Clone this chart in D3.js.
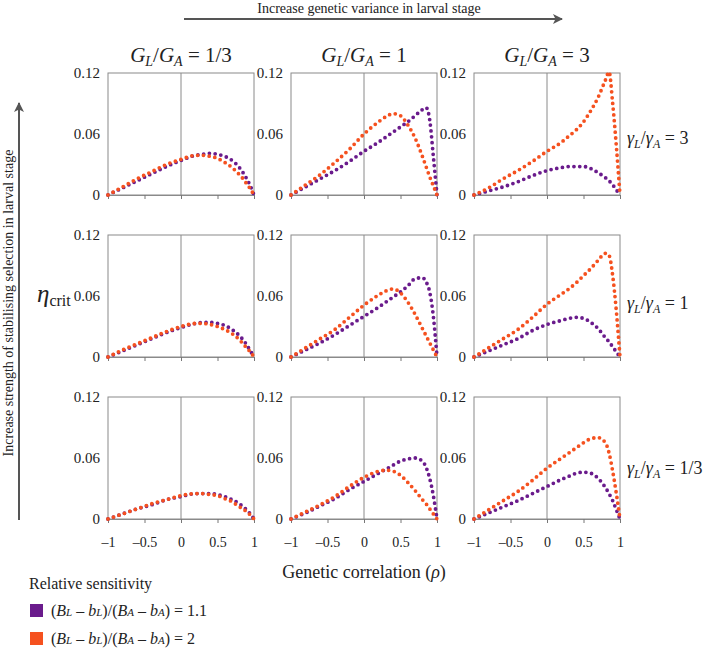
<!DOCTYPE html>
<html>
<head>
<meta charset="utf-8">
<script src="https://cdn.jsdelivr.net/npm/d3@7"></script>
<style>
  body { margin: 0; background: #fff; }
  svg text { font-family: "Liberation Serif", "Times New Roman", "DejaVu Serif", serif; fill: #222; }
</style>
</head>
<body>
<div id="chart"></div>
<script>
// genetic correlation grid (x values)
const rho = [-1, -0.8, -0.6, -0.4, -0.2, 0, 0.2, 0.3, 0.4, 0.5, 0.6, 0.7, 0.8, 0.85, 0.9, 0.95, 1];

const colTitles = ['1/3', '1', '3'];      // G_L/G_A
const rowTitles = ['3', '1', '1/3'];      // gamma_L/gamma_A
const yTicks = [0, 0.06, 0.12];
const xTicks = [-1, -0.5, 0, 0.5, 1];

// row 1 : gamma ratio = 3
const purpleR1C1 = [0, 0.007, 0.014, 0.021, 0.028, 0.034, 0.039, 0.040, 0.041, 0.040, 0.038, 0.034, 0.027, 0.022, 0.016, 0.009, 0];
const orangeR1C1 = [0, 0.008, 0.016, 0.023, 0.030, 0.035, 0.039, 0.039, 0.038, 0.036, 0.032, 0.027, 0.020, 0.016, 0.011, 0.006, 0];
const purpleR1C2 = [0, 0.008, 0.016, 0.024, 0.033, 0.043, 0.052, 0.057, 0.062, 0.067, 0.072, 0.078, 0.084, 0.086, 0.074, 0.038, 0];
const orangeR1C2 = [0, 0.010, 0.020, 0.032, 0.045, 0.060, 0.072, 0.077, 0.080, 0.078, 0.069, 0.056, 0.038, 0.028, 0.018, 0.009, 0];
const purpleR1C3 = [0, 0.004, 0.008, 0.013, 0.019, 0.024, 0.027, 0.028, 0.028, 0.028, 0.026, 0.022, 0.017, 0.014, 0.010, 0.005, 0];
const orangeR1C3 = [0, 0.007, 0.016, 0.024, 0.033, 0.043, 0.052, 0.058, 0.064, 0.072, 0.083, 0.096, 0.113, 0.121, 0.090, 0.048, 0];

// row 2 : gamma ratio = 1
const purpleR2C1 = [0, 0.006, 0.012, 0.018, 0.024, 0.029, 0.033, 0.034, 0.034, 0.033, 0.031, 0.027, 0.021, 0.017, 0.012, 0.006, 0];
const orangeR2C1 = [0, 0.007, 0.013, 0.019, 0.025, 0.030, 0.033, 0.033, 0.032, 0.030, 0.027, 0.023, 0.017, 0.013, 0.009, 0.005, 0];
const purpleR2C2 = [0, 0.007, 0.014, 0.022, 0.031, 0.040, 0.049, 0.054, 0.059, 0.064, 0.070, 0.077, 0.078, 0.074, 0.064, 0.040, 0];
const orangeR2C2 = [0, 0.009, 0.018, 0.027, 0.039, 0.051, 0.061, 0.065, 0.067, 0.063, 0.054, 0.042, 0.028, 0.021, 0.014, 0.007, 0];
const purpleR2C3 = [0, 0.006, 0.012, 0.018, 0.026, 0.032, 0.036, 0.038, 0.039, 0.038, 0.034, 0.028, 0.019, 0.015, 0.010, 0.005, 0];
const orangeR2C3 = [0, 0.009, 0.018, 0.027, 0.039, 0.052, 0.062, 0.067, 0.073, 0.080, 0.087, 0.095, 0.102, 0.100, 0.080, 0.045, 0];

// row 3 : gamma ratio = 1/3
const purpleR3C1 = [0, 0.005, 0.010, 0.014, 0.019, 0.022, 0.025, 0.025, 0.025, 0.024, 0.022, 0.019, 0.015, 0.012, 0.009, 0.005, 0];
const orangeR3C1 = [0, 0.005, 0.010, 0.015, 0.019, 0.023, 0.025, 0.025, 0.024, 0.023, 0.020, 0.017, 0.012, 0.010, 0.007, 0.004, 0];
const purpleR3C2 = [0, 0.006, 0.013, 0.020, 0.029, 0.037, 0.045, 0.049, 0.053, 0.057, 0.059, 0.060, 0.057, 0.051, 0.040, 0.023, 0];
const orangeR3C2 = [0, 0.007, 0.014, 0.022, 0.032, 0.041, 0.047, 0.048, 0.047, 0.043, 0.036, 0.028, 0.019, 0.015, 0.010, 0.005, 0];
const purpleR3C3 = [0, 0.006, 0.012, 0.018, 0.025, 0.032, 0.039, 0.042, 0.045, 0.046, 0.045, 0.040, 0.031, 0.025, 0.018, 0.009, 0];
const orangeR3C3 = [0, 0.009, 0.018, 0.027, 0.038, 0.050, 0.060, 0.065, 0.070, 0.075, 0.079, 0.080, 0.075, 0.065, 0.047, 0.025, 0];

const purpleRows = [[purpleR1C1, purpleR1C2, purpleR1C3], [purpleR2C1, purpleR2C2, purpleR2C3], [purpleR3C1, purpleR3C2, purpleR3C3]];
const orangeRows = [[orangeR1C1, orangeR1C2, orangeR1C3], [orangeR2C1, orangeR2C2, orangeR2C3], [orangeR3C1, orangeR3C2, orangeR3C3]];

const PURPLE = '#6a1b8c';
const ORANGE = '#f5511f';
const SERIF = '"Liberation Serif", "Times New Roman", serif';

const width = 709, height = 650;
const panelW = 146, panelH = 122;
const colX = [108, 291, 474];
const rowY = [73, 235, 397];
const rowLabelShift = [10, 13, 16];

const svg = d3.select('#chart').append('svg')
  .attr('width', width)
  .attr('height', height)
  .attr('font-family', SERIF);

const defs = svg.append('defs');
defs.append('marker').attr('id', 'arrow')
  .attr('viewBox', '0 0 10 10').attr('refX', 9).attr('refY', 5)
  .attr('markerWidth', 10).attr('markerHeight', 10)
  .attr('markerUnits', 'userSpaceOnUse')
  .attr('orient', 'auto')
  .append('path').attr('d', 'M0,0 L10,5 L0,10 L2.5,5 Z').attr('fill', '#555');

const x = d3.scaleLinear().domain([-1, 1]).range([0, panelW]);
const y = d3.scaleLinear().domain([0, 0.12]).range([panelH, 0]);

const line = d3.line()
  .x((d, i) => x(rho[i]))
  .y(d => y(d))
  .curve(d3.curveMonotoneX);

function drawPanel(r, c) {
  const g = svg.append('g').attr('transform', 'translate(' + colX[c] + ',' + rowY[r] + ')');

  // box
  g.append('rect').attr('width', panelW).attr('height', panelH)
    .attr('fill', 'none').attr('stroke', '#8a8a8a').attr('stroke-width', 1);

  // x axis with ticks going down
  const xAxis = g.append('g').attr('transform', 'translate(0,' + panelH + ')')
    .call(d3.axisBottom(x).tickValues(xTicks).tickSize(4).tickSizeOuter(0)
      .tickFormat(d => r === 2 ? (d < 0 ? '\u2013' + Math.abs(d) : d) : ''));
  xAxis.attr('font-family', SERIF);
  xAxis.select('.domain').attr('stroke', '#8a8a8a');
  xAxis.selectAll('.tick line').attr('stroke', '#777');
  xAxis.selectAll('.tick text').attr('font-size', 14).attr('dy', '1.5em').attr('fill', '#222');

  // y axis labels
  const yAxis = g.append('g')
    .call(d3.axisLeft(y).tickValues(yTicks).tickSize(0).tickPadding(8)
      .tickFormat(d => d === 0 ? '0' : d3.format('.2f')(d)));
  yAxis.attr('font-family', SERIF);
  yAxis.select('.domain').remove();
  yAxis.selectAll('.tick text').attr('font-size', 15).attr('fill', '#222');

  // rho = 0 line
  g.append('line').attr('x1', x(0)).attr('x2', x(0)).attr('y1', 0).attr('y2', panelH)
    .attr('stroke', '#8a8a8a').attr('stroke-width', 1);

  // dotted curves
  [[purpleRows[r][c], PURPLE], [orangeRows[r][c], ORANGE]].forEach(([vals, col]) => {
    g.append('path').datum(vals)
      .attr('fill', 'none')
      .attr('stroke', col)
      .attr('stroke-width', 3.8)
      .attr('stroke-linecap', 'round')
      .attr('stroke-dasharray', '0 5.8')
      .attr('d', line);
  });
}

for (let r = 0; r < 3; r++) {
  for (let c = 0; c < 3; c++) drawPanel(r, c);
}

// column titles  G_L/G_A = ...
colTitles.forEach((t, c) => {
  const tx = svg.append('text')
    .attr('x', colX[c] + panelW / 2).attr('y', 62)
    .attr('text-anchor', 'middle').attr('font-size', 21);
  tx.append('tspan').attr('font-style', 'italic').text('G');
  tx.append('tspan').attr('font-style', 'italic').attr('font-size', 14).attr('dy', 4).text('L');
  tx.append('tspan').attr('dy', -4).text('/');
  tx.append('tspan').attr('font-style', 'italic').text('G');
  tx.append('tspan').attr('font-style', 'italic').attr('font-size', 14).attr('dy', 4).text('A');
  tx.append('tspan').attr('dy', -4).text(' = ' + t);
});

// row titles  gamma_L/gamma_A = ...
rowTitles.forEach((t, r) => {
  const tx = svg.append('text')
    .attr('x', 627).attr('y', rowY[r] + panelH / 2 + rowLabelShift[r])
    .attr('font-size', 18);
  tx.append('tspan').attr('font-style', 'italic').text('\u03b3');
  tx.append('tspan').attr('font-style', 'italic').attr('font-size', 12).attr('dy', 4).text('L');
  tx.append('tspan').attr('dy', -4).text('/');
  tx.append('tspan').attr('font-style', 'italic').text('\u03b3');
  tx.append('tspan').attr('font-style', 'italic').attr('font-size', 12).attr('dy', 4).text('A');
  tx.append('tspan').attr('dy', -4).text(' = ' + t);
});

// top arrow
svg.append('text').attr('x', 369).attr('y', 13).attr('text-anchor', 'middle')
  .attr('font-size', 14).text('Increase genetic variance in larval stage');
svg.append('line').attr('x1', 184).attr('x2', 562).attr('y1', 19).attr('y2', 19)
  .attr('stroke', '#555').attr('stroke-width', 2).attr('marker-end', 'url(#arrow)');

// left arrow
svg.append('line').attr('x1', 19).attr('x2', 19).attr('y1', 520).attr('y2', 103)
  .attr('stroke', '#555').attr('stroke-width', 2).attr('marker-end', 'url(#arrow)');
svg.append('text').attr('transform', 'translate(13,' + 303 + ') rotate(-90)')
  .attr('text-anchor', 'middle').attr('font-size', 14)
  .text('Increase strength of stabilising selection in larval stage');

// y label eta_crit
const eta = svg.append('text').attr('x', 37).attr('y', 302).attr('font-size', 25);
eta.append('tspan').attr('font-style', 'italic').text('\u03b7');
eta.append('tspan').attr('font-size', 16).attr('dy', 4).text('crit');

// x label
const xl = svg.append('text').attr('x', colX[1] + panelW / 2).attr('y', 578)
  .attr('text-anchor', 'middle').attr('font-size', 18);
xl.append('tspan').text('Genetic correlation (');
xl.append('tspan').attr('font-style', 'italic').text('\u03c1');
xl.append('tspan').text(')');

// legend
svg.append('text').attr('x', 29).attr('y', 589).attr('font-size', 16).text('Relative sensitivity');
const legendItems = [{ color: PURPLE, value: '1.1' }, { color: ORANGE, value: '2' }];
legendItems.forEach((d, i) => {
  const ly = 604 + i * 28;
  svg.append('rect').attr('x', 30).attr('y', ly).attr('width', 13).attr('height', 13).attr('fill', d.color);
  const t = svg.append('text').attr('x', 51).attr('y', ly + 12).attr('font-size', 16);
  t.append('tspan').text('(');
  t.append('tspan').attr('font-style', 'italic').text('B');
  t.append('tspan').attr('font-style', 'italic').attr('font-size', 11).text('L');
  t.append('tspan').text(' \u2013 ');
  t.append('tspan').attr('font-style', 'italic').text('b');
  t.append('tspan').attr('font-style', 'italic').attr('font-size', 11).text('L');
  t.append('tspan').text(')/(');
  t.append('tspan').attr('font-style', 'italic').text('B');
  t.append('tspan').attr('font-style', 'italic').attr('font-size', 11).text('A');
  t.append('tspan').text(' \u2013 ');
  t.append('tspan').attr('font-style', 'italic').text('b');
  t.append('tspan').attr('font-style', 'italic').attr('font-size', 11).text('A');
  t.append('tspan').text(') = ' + d.value);
});
</script>
</body>
</html>
